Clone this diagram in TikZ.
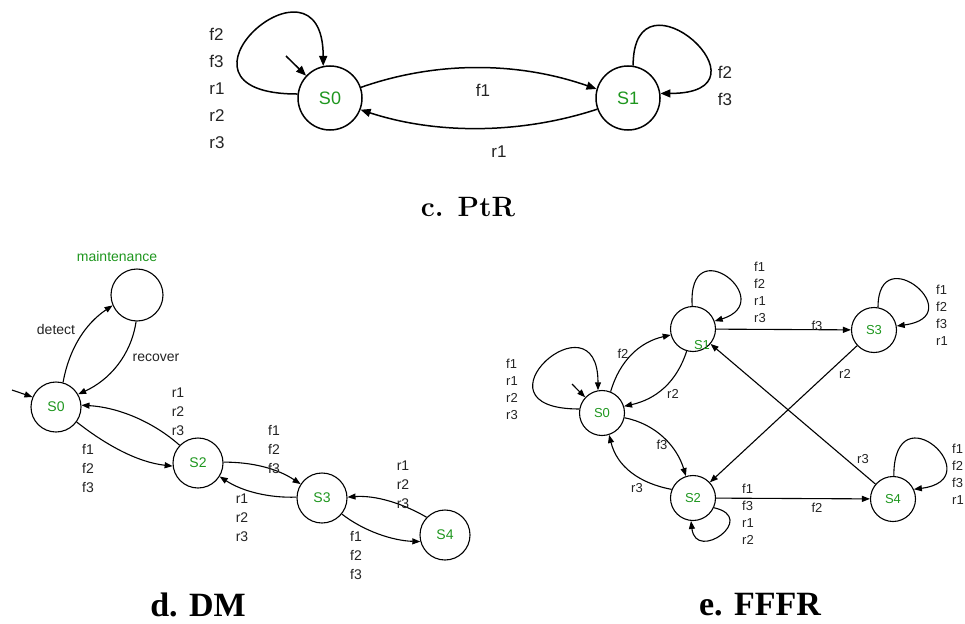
\documentclass[tikz,border=0pt]{standalone}
\usepackage{fontspec}
\setsansfont{Liberation Sans}
\newfontfamily\tnr{Liberation Serif}
\usetikzlibrary{arrows.meta}
\definecolor{stgreen}{RGB}{30,150,30}
\definecolor{lblgray}{RGB}{35,35,35}
\begin{document}
\begin{tikzpicture}[x=1pt,y=-1pt,
  stA/.style={circle,draw,line width=1.5pt,minimum size=64pt,inner sep=0pt,text=stgreen,font=\sffamily\fontsize{18}{18}\selectfont},
  stB/.style={circle,draw,line width=1.1pt,minimum size=50pt,inner sep=0pt,text=stgreen,font=\sffamily\fontsize{14}{14}\selectfont},
  stC/.style={circle,draw,line width=1.1pt,minimum size=45pt,inner sep=0pt,text=stgreen,font=\sffamily\fontsize{13}{13}\selectfont},
  edgeA/.style={line width=1.5pt,-{Triangle[length=10pt,width=8pt]}},
  edgeB/.style={line width=1.1pt,-{Triangle[length=8pt,width=6pt]}},
  lblA/.style={align=left,inner sep=0pt,text=lblgray,font=\sffamily\fontsize{17}{27}\selectfont},
  lblB/.style={align=left,inner sep=0pt,text=lblgray,font=\sffamily\fontsize{14}{19}\selectfont},
  lblC/.style={align=left,inner sep=0pt,text=lblgray,font=\sffamily\fontsize{13}{17}\selectfont},
  capA/.style={inner sep=0pt,font=\bfseries\fontsize{28}{28}\selectfont},
  capB/.style={inner sep=0pt,font=\tnr\bfseries\fontsize{34}{34}\selectfont}
]
\useasboundingbox (0,0) rectangle (965,623);

% ---------------- c. PtR ----------------
\node[stA] (tS0) at (330,98) {S0};
\node[stA] (tS1) at (628,98) {S1};
\coordinate (ti) at (286,56);
\draw[edgeA] (ti) -- (tS0.137);
\draw[edgeA] (tS0.173) .. controls +(-150,0) and +(0,-128) .. (tS0.102);
\draw[edgeA] (tS1.81) .. controls +(0,-105) and +(120,0) .. (tS1.8);
\draw[edgeA] (tS0.19) .. controls +(77,-27) and +(-77,-27) .. (tS1.164);
\draw[edgeA] (tS1.200) .. controls +(-76,25) and +(76,25) .. (tS0.-21);
\node[lblA] (tl0) at (217,88) {f2\\f3\\r1\\r2\\r3};
\node[lblA] (tl1) at (725,86) {f2\\f3};
\node[lblA] (tlf1) at (483,90) {f1};
\node[lblA] (tlr1) at (499,152) {r1};
\node[capA] (capc) at (468,207) {c. PtR};

% ---------------- d. DM ----------------
\node[text=stgreen,inner sep=0pt,font=\sffamily\fontsize{14}{14}\selectfont] (dMl) at (117,256) {maintenance};
\node[stB,minimum size=52pt] (dM) at (137,295) {};
\node[stB] (dS0) at (56,407) {S0};
\node[stB] (dS2) at (198,463) {S2};
\node[stB] (dS3) at (322,498) {S3};
\node[stB] (dS4) at (445,535) {S4};
\coordinate (dmi) at (12,390);
\draw[edgeB] (dmi) -- (dS0.157);
\draw[edgeB] (dS0.74) .. controls +(6,-33) and +(-28,19) .. (dM.203);
\draw[edgeB] (dM.-92) .. controls +(-5,34) and +(31,-14) .. (dS0.30);
\draw[edgeB] (dS2.136) .. controls +(-27,-24) and +(36,2) .. (dS0.4);
\draw[edgeB] (dS0.-36) .. controls +(28,22) and +(-36,-4) .. (dS2.187);
\draw[edgeB] (dS2.2) .. controls +(28,0) and +(-24,-16) .. (dS3.147);
\draw[edgeB] (dS3.178) .. controls +(-27,1) and +(23,15) .. (dS2.-32);
\draw[edgeB] (dS4.136) .. controls +(-24,-14) and +(28,-2) .. (dS3.2);
\draw[edgeB] (dS3.-39) .. controls +(22,17) and +(-28,-1) .. (dS4.195);
\node[lblB] (dld) at (56,329) {detect};
\node[lblB] (dlr) at (156,358) {recover};
\node[lblB] (dl1) at (178,412) {r1\\r2\\r3};
\node[lblB] (dl2) at (88,468) {f1\\f2\\f3};
\node[lblB] (dl3) at (274,449) {f1\\f2\\f3};
\node[lblB] (dl4) at (242,518) {r1\\r2\\r3};
\node[lblB] (dl5) at (403,485) {r1\\r2\\r3};
\node[lblB] (dl6) at (356,555) {f1\\f2\\f3};
\node[capB] (capd) at (198,605) {d. DM};

% ---------------- e. FFFR ----------------
\node[stC] (fS0) at (602,413) {S0};
\node[stC] (fS1) at (693,329) {};
\node[text=stgreen,inner sep=0pt,font=\sffamily\fontsize{13}{13}\selectfont] (fS1t) at (702,345) {S1};
\node[stC] (fS2) at (693,498) {S2};
\node[stC] (fS3) at (874,330) {S3};
\node[stC] (fS4) at (893,499) {S4};
\coordinate (fi) at (572,384);
\draw[edgeB] (fi) -- (fS0.137);
\draw[edgeB] (fS0.170) .. controls +(-115,0) and +(0,-100) .. (fS0.100);
\draw[edgeB] (fS1.92) .. controls +(-5,-78) and +(65,-20) .. (fS1.20);
\draw[edgeB] (fS3.80) .. controls +(0,-70) and +(75,-10) .. (fS3.10);
\draw[edgeB] (fS4.88) .. controls +(0,-88) and +(78,-10) .. (fS4.25);
\draw[edgeB] (fS2.-25) .. controls +(45,10) and +(5,42) .. (fS2.-95);
\draw[edgeB] (fS0.68) .. controls +(9,-31) and +(-31,7) .. (fS1.195);
\draw[edgeB] (fS1.-106) .. controls +(-10,31) and +(32,-7) .. (fS0.17);
\draw[edgeB] (fS1) -- (fS3);
\draw[edgeB] (fS3) -- (fS2);
\draw[edgeB] (fS4) -- (fS1);
\draw[edgeB] (fS2) -- (fS4);
\draw[edgeB] (fS0.-12) .. controls +(31,6) and +(-9,-30) .. (fS2.108);
\draw[edgeB] (fS2.158) .. controls +(-32,-6) and +(8,32) .. (fS0.-72);
\node[lblC] (fl1) at (760,292) {f1\\f2\\r1\\r3};
\node[lblC] (fl3) at (942,315) {f1\\f2\\f3\\r1};
\node[lblC] (fl0) at (512,389) {f1\\r1\\r2\\r3};
\node[lblC] (fl2) at (748,514) {f1\\f3\\r1\\r2};
\node[lblC] (fl4) at (958,474) {f1\\f2\\f3\\r1};
\node[lblC] (flf2) at (623,354) {f2};
\node[lblC] (flr2a) at (673,394) {r2};
\node[lblC] (flf3a) at (817,326) {f3};
\node[lblC] (flr2b) at (845,374) {r2};
\node[lblC] (flf3b) at (662,445) {f3};
\node[lblC] (flr3a) at (637,488) {r3};
\node[lblC] (flr3b) at (863,459) {r3};
\node[lblC] (flf2b) at (817,508) {f2};
\node[capB] (cape) at (760,605) {e. FFFR};
\end{tikzpicture}
\end{document}
